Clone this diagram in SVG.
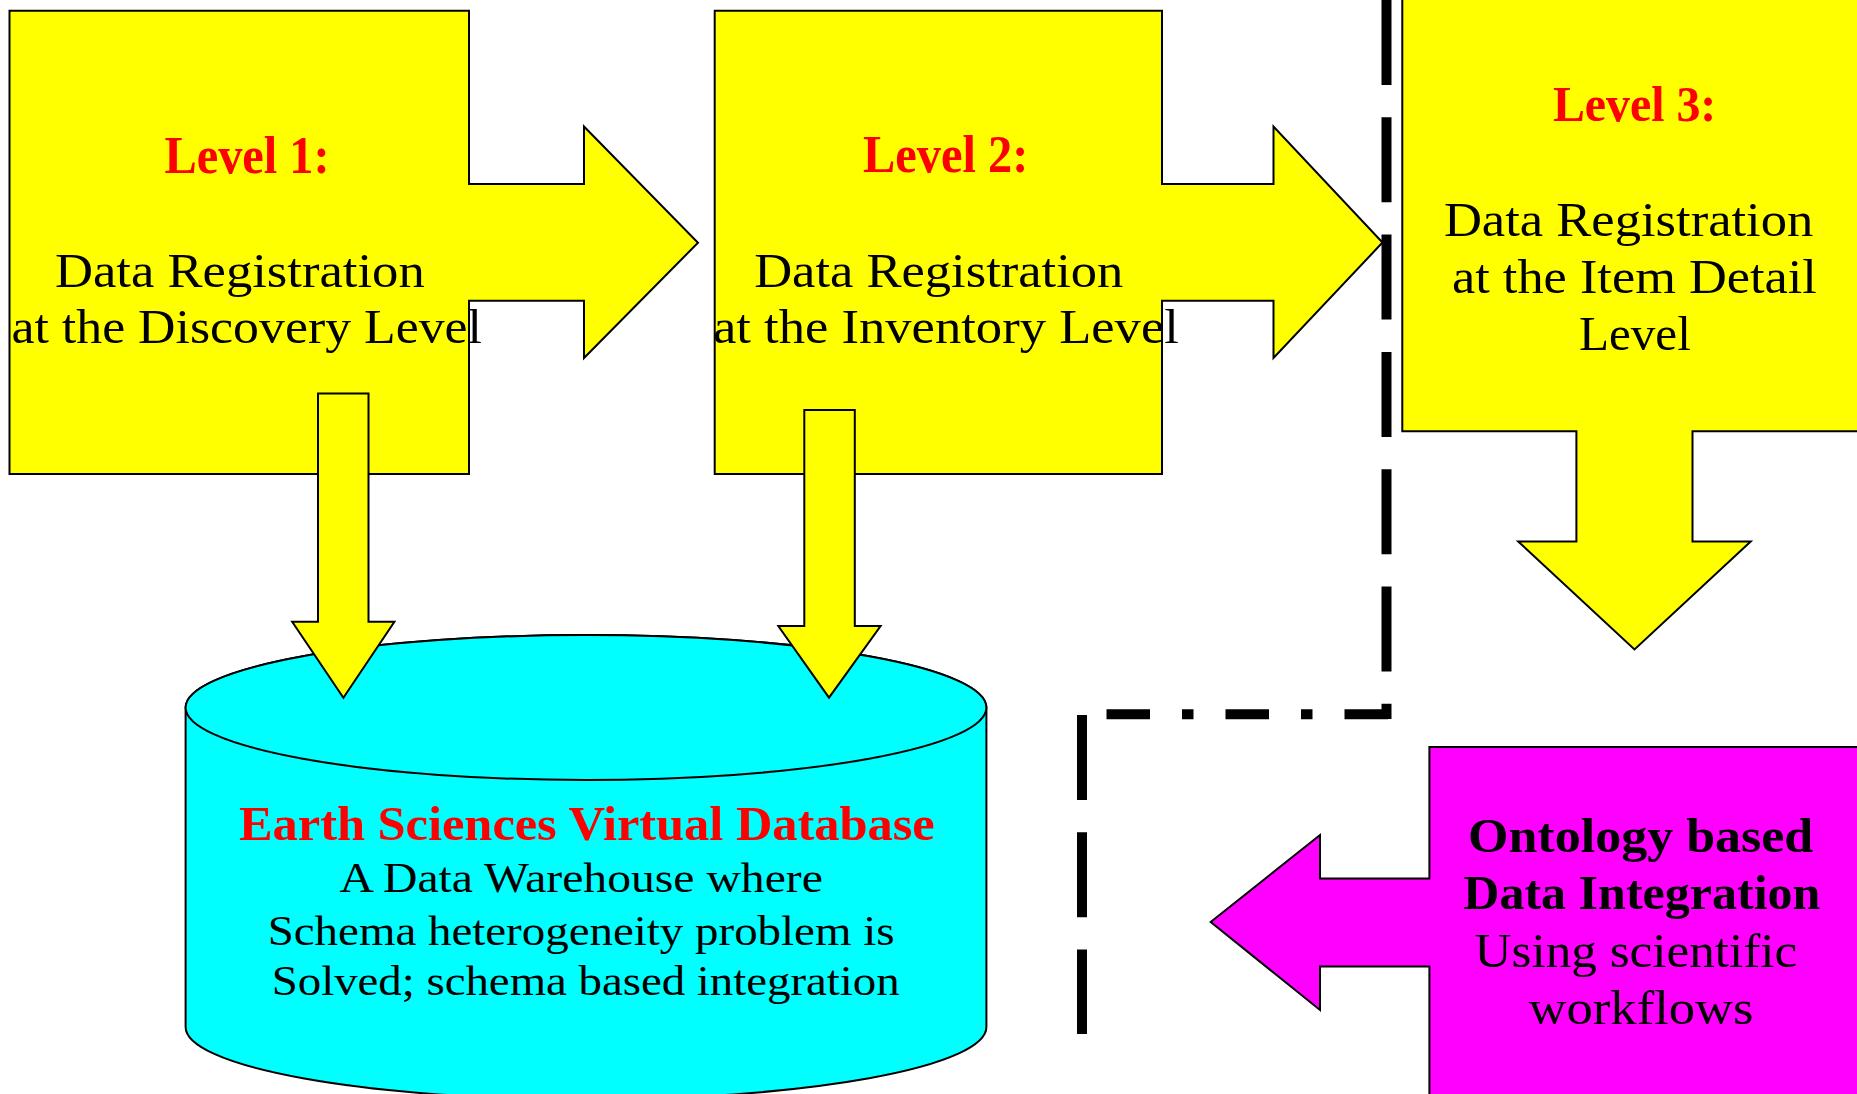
<svg xmlns="http://www.w3.org/2000/svg" width="1857" height="1094" viewBox="0 0 1857 1094">
<style>
.shape{stroke:#000;stroke-width:2;stroke-linejoin:miter}
.y{fill:#FFFF00}
.c{fill:#00FFFF}
.m{fill:#FF00FF}
text{font-family:"Liberation Serif","Times New Roman",serif;fill:#000}
.t{font-size:48px}
.tb{font-weight:bold}
.red{fill:#FF0000}
.sm{font-size:43px}
.sep{fill:none;stroke:#000;stroke-width:10}
</style>
<rect width="1857" height="1094" fill="#fff"/>
<g id="level1">
<polygon class="shape y" points="9.5,10.7 469,10.7 469,184 584,184 584,126.5 698,242.7 584,358 584,300.7 469,300.7 469,474 9.5,474"/>
<text class="tb red" x="164.4" y="172.7" font-size="53" textLength="165.3" lengthAdjust="spacingAndGlyphs">Level 1:</text>
<text class="t" x="55" y="286.7" textLength="369.7" lengthAdjust="spacingAndGlyphs">Data Registration</text>
<text class="t" x="11.5" y="343.3" textLength="470.5" lengthAdjust="spacingAndGlyphs">at the Discovery Level</text>
</g>
<g id="level2">
<polygon class="shape y" points="714.7,10.7 1162,10.7 1162,184 1273.5,184 1273.5,126.5 1382.5,242.5 1273.5,358 1273.5,300.7 1162,300.7 1162,474 714.7,474"/>
<text class="tb red" x="863" y="171.7" font-size="53" textLength="165.3" lengthAdjust="spacingAndGlyphs">Level 2:</text>
<text class="t" x="754.2" y="286.7" textLength="369.1" lengthAdjust="spacingAndGlyphs">Data Registration</text>
<text class="t" x="712.9" y="343.3" textLength="466" lengthAdjust="spacingAndGlyphs">at the Inventory Level</text>
</g>
<g id="level3">
<polygon class="shape y" points="1402.3,-5 1870,-5 1870,431.2 1692.5,431.2 1692.5,541.4 1750.7,541.4 1634.5,649.4 1518.2,541.4 1576.4,541.4 1576.4,431.2 1402.3,431.2"/>
<text class="tb red" x="1552.9" y="120.5" font-size="50" textLength="163.4" lengthAdjust="spacingAndGlyphs">Level 3:</text>
<text class="t" x="1443.9" y="235.7" textLength="369.4" lengthAdjust="spacingAndGlyphs">Data Registration</text>
<text class="t" x="1452" y="293.3" textLength="364.9" lengthAdjust="spacingAndGlyphs">at the Item Detail</text>
<text class="t" x="1578.9" y="350.4" textLength="111.9" lengthAdjust="spacingAndGlyphs">Level</text>
</g>
<g id="database">
<path class="shape c" d="M185.6,707.5 A400.4,72.5 0 0 1 986.4,707.5 L986.4,1027 A400.4,72.5 0 0 1 185.6,1027 Z"/>
<ellipse class="shape c" cx="586" cy="707.5" rx="400.4" ry="72.5"/>
<text class="tb red" x="239" y="840" font-size="48" textLength="695.7" lengthAdjust="spacingAndGlyphs">Earth Sciences Virtual Database</text>
<text class="sm" x="339.4" y="892.3" textLength="483.4" lengthAdjust="spacingAndGlyphs">A Data Warehouse where</text>
<text class="sm" x="267.7" y="944.7" textLength="626.8" lengthAdjust="spacingAndGlyphs">Schema heterogeneity problem is</text>
<text class="sm" x="271.7" y="994.8" textLength="628" lengthAdjust="spacingAndGlyphs">Solved; schema based integration</text>
</g>
<g id="ontology">
<polygon class="shape m" points="1429.4,747 1870,747 1870,1100 1429.4,1100 1429.4,966.6 1320,966.6 1320,1010 1210.7,922 1320,835 1320,878.5 1429.4,878.5"/>
<text class="t tb" x="1468" y="851.7" textLength="345.3" lengthAdjust="spacingAndGlyphs">Ontology based</text>
<text class="t tb" x="1463.3" y="909.3" textLength="357.1" lengthAdjust="spacingAndGlyphs">Data Integration</text>
<text class="t" x="1474.6" y="967.3" textLength="322.7" lengthAdjust="spacingAndGlyphs">Using scientific</text>
<text class="t" x="1528.6" y="1024" textLength="224.9" lengthAdjust="spacingAndGlyphs">workflows</text>
</g>
<g id="separators">
<line class="sep" x1="1386.5" y1="0" x2="1386.5" y2="719" stroke-dasharray="85 32.3"/>
<line class="sep" x1="1388" y1="714.3" x2="1082" y2="714.3" stroke-dasharray="43.5 32 11.5 32"/>
<line class="sep" x1="1082" y1="715" x2="1082" y2="1034" stroke-dasharray="85 32.3"/>
</g>
<g id="connectors">
<polygon class="shape y" points="318,393.5 368.5,393.5 368.5,621.8 394.4,621.8 343.4,697.7 292.2,621.8 318,621.8"/>
<polygon class="shape y" points="804.3,410 854.8,410 854.8,626 880.6,626 829,697.7 778.3,626 804.3,626"/>
</g>
</svg>
